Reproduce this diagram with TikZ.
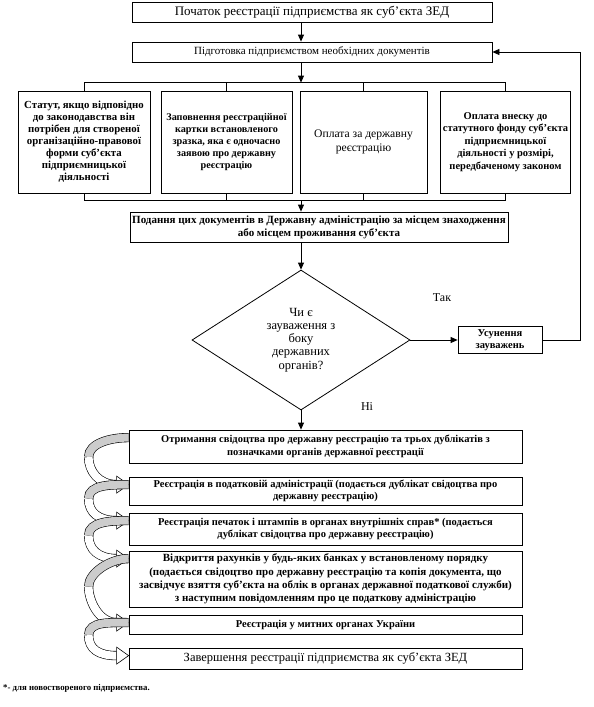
\documentclass[tikz,border=0pt]{standalone}
\usepackage{fontspec}
\setmainfont{Liberation Serif}
\usetikzlibrary{arrows.meta,shapes.geometric,calc}

% curved ribbon arrow between two steps
\newcommand{\ribbon}[2]{%
  \coordinate (ra) at ([yshift=-8pt]#1.north west);
  \coordinate (rb) at ([xshift=-12pt,yshift=-8pt]#2.north west);
  \coordinate (rm) at ($(ra)!0.5!(rb)+(-34,-4)$);
  \draw[line width=0.6pt,double=gray!40,double distance=8pt] (ra) .. controls +(-18,0) and +(0,-14) .. (rm);
  \draw[line width=0.6pt,double=white,double distance=8pt] (rm) .. controls +(0,14) and +(-18,0) .. (rb);
  \draw[line width=0.6pt,fill=white] ([yshift=8.5pt]rb) -- ([xshift=12pt]rb) -- ([yshift=-8.5pt]rb) -- cycle;
}

\begin{document}
\begin{tikzpicture}[x=1pt,y=-1pt,
    box/.style={draw,line width=0.8pt,align=center,inner sep=2pt},
    bf/.style={font=\fontsize{10.5}{12.5}\selectfont\bfseries},
    big/.style={font=\fontsize{13}{15}\selectfont},
    arr/.style={line width=0.8pt,-{Triangle[length=7pt,width=6pt]}},
    lin/.style={line width=0.8pt}]
  \useasboundingbox (0,0) rectangle (594,707);
  % top part
  \node[box,big,minimum width=360pt,minimum height=20pt] (start) at (312,12) {Початок реєстрації підприємства як суб’єкта ЗЕД};
  \node[box,font=\fontsize{11}{13}\selectfont,minimum width=360pt,minimum height=20pt] (prep) at (312,52) {Підготовка підприємством необхідних документів};
  \node[box,font=\fontsize{10.8}{12}\selectfont\bfseries,minimum width=132pt,minimum height=102pt] (docA) at (84,142) {Статут, якщо відповідно\\до законодавства він\\потрібен для створеної\\організаційно-правової\\форми суб’єкта\\підприємницької\\діяльності};
  \node[box,font=\fontsize{10.2}{12}\selectfont\bfseries,minimum width=131pt,minimum height=102pt] (docB) at (226.5,142) {Заповнення реєстраційної\\картки встановленого\\зразка, яка є одночасно\\заявою про державну\\реєстрацію};
  \node[box,font=\fontsize{11.6}{13.5}\selectfont,minimum width=127pt,minimum height=102pt] (docC) at (363.5,142) {Оплата за державну\\реєстрацію};
  \node[box,bf,minimum width=129pt,minimum height=102pt] (docD) at (505.5,142) {Оплата внеску до\\статутного фонду суб’єкта\\підприємницької\\діяльності у розмірі,\\передбаченому законом};
  \node[box,font=\fontsize{11}{13}\selectfont\bfseries,minimum width=378pt,minimum height=30pt] (submit) at (319,227) {Подання цих документів в Державну адміністрацію за місцем знаходження\\або місцем проживання суб’єкта};
  % decision
  \node[draw,line width=0.8pt,diamond,aspect=1.56,minimum width=218pt,minimum height=140pt,inner sep=0pt,align=center,font=\fontsize{12.5}{13.2}\selectfont] (check) at (301,340) {Чи є\\зауваження з\\боку\\державних\\органів?};
  \node[box,font=\fontsize{10.5}{12}\selectfont\bfseries,minimum width=84pt,minimum height=27pt] (fix) at (500,340) {Усунення\\зауважень};
  \node[font=\fontsize{12}{14}\selectfont] (yes) at (442,298) {Так};
  \node[font=\fontsize{12}{14}\selectfont] (no) at (367,407) {Ні};
  % steps
  \node[box,bf,minimum width=393pt,minimum height=33pt] (s1) at (325.5,446.5) {Отримання свідоцтва про державну реєстрацію та трьох дублікатів з\\позначками органів державної реєстрації};
  \node[box,bf,minimum width=393pt,minimum height=28pt] (s2) at (325.5,491) {Реєстрація в податковій адміністрації (подається дублікат свідоцтва про\\державну реєстрацію)};
  \node[box,bf,minimum width=393pt,minimum height=32pt] (s3) at (325.5,529) {Реєстрація печаток і штампів в органах внутрішніх справ* (подається\\дублікат свідоцтва про державну реєстрацію)};
  \node[box,font=\fontsize{11}{13.2}\selectfont\bfseries,minimum width=393pt,minimum height=56pt] (s4) at (325.5,579) {Відкриття рахунків у будь-яких банках у встановленому порядку\\(подається свідоцтво про державну реєстрацію та копія документа, що\\засвідчує взяття суб’єкта на облік в органах державної податкової служби)\\з наступним повідомленням про це податкову адміністрацію};
  \node[box,bf,minimum width=393pt,minimum height=19pt] (s5) at (325.5,624.5) {Реєстрація у митних органах України};
  \node[box,font=\fontsize{12.5}{14}\selectfont,minimum width=393pt,minimum height=21pt] (s6) at (325.5,658.5) {Завершення реєстрації підприємства як суб’єкта ЗЕД};
  \node[anchor=west,font=\fontsize{8.8}{10}\selectfont\bfseries,inner sep=0pt] (note) at (3,688) {*- для новоствореного підприємства.};
  % connectors
  \draw[arr] (start.south -| check) -- (prep.north -| check);
  \coordinate (busT) at ([yshift=8pt]docA.north);
  \coordinate (busB) at ([yshift=-7pt]docA.south);
  \draw[arr] (prep.south -| check) -- (busT -| check);
  \draw[lin] (docA.north) -- (busT) -| (docD.north) (docB.north) -- (busT -| docB) (docC.north) -- (busT -| docC);
  \draw[lin] (docA.south) -- (busB) -| (docD.south) (docB.south) -- (busB -| docB) (docC.south) -- (busB -| docC);
  \draw[arr] (busB -| check) -- (submit.north -| check);
  \draw[arr] (submit.south -| check) -- (check.north);
  \draw[arr] (check.east) -- (fix.west);
  \draw[arr] (fix.east) -- ++(38,0) |- (prep.east);
  \draw[arr] (check.south) -- (s1.north -| check);
  \ribbon{s1}{s2}
  \ribbon{s2}{s3}
  \ribbon{s3}{s4}
  \ribbon{s4}{s5}
  \ribbon{s5}{s6}
\end{tikzpicture}
\end{document}
